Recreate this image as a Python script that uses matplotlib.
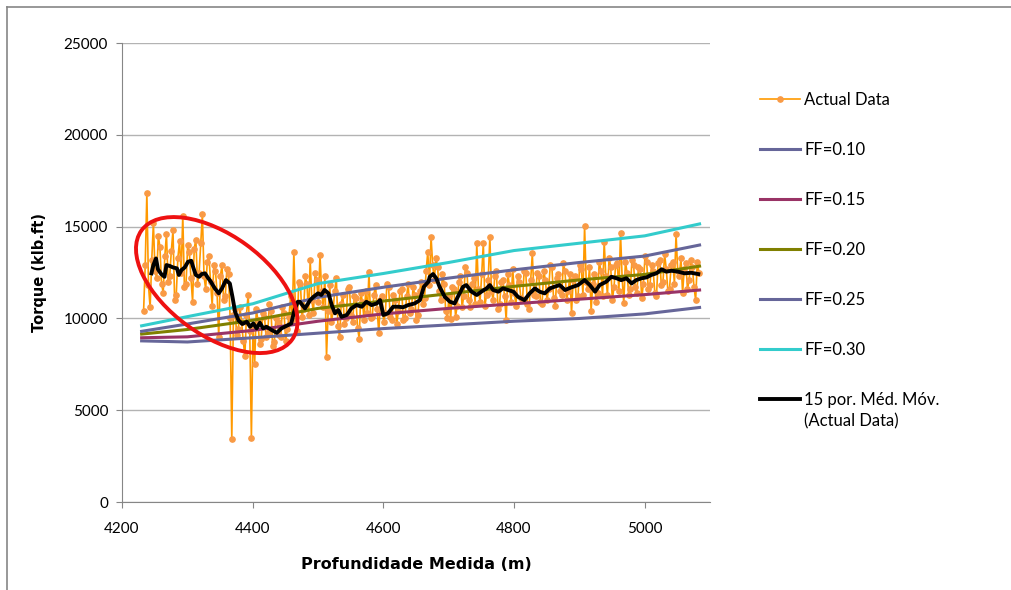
import numpy as np
import matplotlib
matplotlib.use("Agg")
from matplotlib import pyplot as plt
from matplotlib.lines import Line2D
from matplotlib.patches import Ellipse
from matplotlib.transforms import ScaledTranslation

plt.rcParams['font.family'] = ['Lato', 'DejaVu Sans']

# torque log, one reading every 2.5 m starting at 4233 m
depth_start, depth_step = 4233, 2.5
torque_actual = [
    10400, 12900, 16850, 11800, 10600, 13200, 15180, 12600, 12200, 14500,
    13900, 11900, 11400, 13400, 14600, 12000, 12300, 13700, 14800, 11000,
    11300, 13300, 14200, 12500, 15600, 11700, 11900, 14000, 13600, 12200,
    10900, 13800, 14300, 11900, 12500, 14100, 15670, 12300, 11600, 13100,
    13400, 12000, 10700, 12900, 12600, 11400, 9000, 12300, 12900, 11000,
    11200, 12700, 12400, 10000, 3410, 10200, 10500, 9100, 9400, 10600,
    9800, 8800, 7950, 10200, 11300, 9300, 3500, 9600, 7520, 10500,
    9900, 8600, 8900, 10300, 10100, 9000, 9200, 10800, 10400, 8500,
    8700, 10000, 9800, 9100, 9000, 10600, 10300, 8800, 9400, 10100,
    11200, 9900, 13630, 10400, 9300, 12000, 11900, 10100, 10500, 12300,
    11900, 10200, 13180, 11000, 10300, 12500, 12100, 10900, 13450, 11500,
    10600, 12300, 7920, 10400, 11800, 9800, 10400, 11500, 12200, 9600,
    9000, 10800, 11300, 9700, 10000, 11600, 11700, 10200, 9800, 11200,
    11100, 9500, 8900, 11400, 10900, 9900, 11500, 10300, 12540, 10000,
    10100, 11300, 11800, 10500, 9190, 11000, 11200, 9800, 10300, 11900,
    11700, 10100, 9900, 11300, 11000, 9700, 10400, 11500, 11600, 9900,
    10000, 11200, 11900, 10300, 10500, 11700, 11300, 9900, 10200, 11500,
    12000, 10800, 11100, 12600, 13630, 11800, 14450, 12900, 12100, 13300,
    12800, 11500, 11000, 12400, 11900, 10400, 10000, 11300, 9950, 11700,
    11600, 10100, 10700, 12000, 12300, 10600, 11200, 12800, 12500, 11000,
    10600, 11900, 12200, 10800, 14090, 11600, 10900, 12400, 14100, 10700,
    11300, 12100, 14450, 11500, 11000, 12300, 12600, 10500, 10800, 12000,
    12100, 11200, 9910, 12400, 11800, 10900, 12700, 11400, 10700, 12300,
    12000, 11100, 11000, 12600, 12500, 10800, 10500, 12100, 13540, 11300,
    11200, 12500, 12300, 10900, 10800, 12600, 12100, 11000, 11600, 12900,
    12800, 11100, 10700, 12200, 12400, 11500, 11300, 13000, 12600, 11000,
    11500, 12400, 10280, 12100, 12300, 11000, 11200, 12900, 12700, 11300,
    15030, 12000, 11600, 12800, 10420, 11900, 12400, 10900, 11400, 13100,
    12600, 11200, 14180, 12300, 11300, 13300, 12800, 11000, 11700, 12900,
    13000, 11500, 14630, 12200, 10820, 13100, 12500, 11300, 11600, 13200,
    12900, 11700, 11400, 12800, 12700, 11100, 11900, 13400, 13100, 11600,
    11800, 12900, 12600, 11400, 11200, 13000, 13200, 11800, 12000, 13500,
    12700, 11500, 11600, 12900, 13100, 11900, 14600, 12600, 12300, 13300,
    11370, 12700, 13000, 11600, 12100, 13200, 12800, 11700, 11000, 13100,
    12500,
]
depth_actual = depth_start + depth_step * np.arange(len(torque_actual))

# 15-point moving average trendline
ma_depth = [4245, 4248, 4252, 4255, 4260, 4265, 4268, 4273, 4278, 4284,
            4287, 4291, 4296, 4301, 4306, 4309, 4313, 4318, 4322, 4327,
            4331, 4336, 4342, 4348, 4353, 4359, 4365, 4369, 4373, 4378,
            4384, 4391, 4396, 4401, 4406, 4411, 4416, 4421, 4429, 4437,
            4444, 4459, 4464, 4469, 4472, 4480, 4488, 4493, 4500, 4505,
            4510, 4516, 4521, 4526, 4531, 4536, 4544, 4551, 4559, 4567,
            4574, 4582, 4590, 4595, 4600, 4607, 4615, 4623, 4630, 4638,
            4648, 4656, 4662, 4669, 4671, 4676, 4681, 4686, 4694, 4702,
            4709, 4714, 4722, 4727, 4735, 4743, 4750, 4758, 4763, 4768,
            4776, 4783, 4791, 4799, 4806, 4816, 4824, 4832, 4839, 4847,
            4855, 4862, 4870, 4878, 4888, 4898, 4908, 4916, 4924, 4931,
            4941, 4949, 4957, 4964, 4972, 4980, 4987, 4995, 5003, 5010,
            5018, 5026, 5033, 5041, 5051, 5061, 5071, 5082]
ma_torque = [12460, 12910, 13270, 12680, 12420, 12270, 12910, 12860, 12780, 12730,
             12370, 12640, 12780, 13090, 13140, 12780, 12370, 12270, 12420, 12460,
             12240, 12000, 11640, 11370, 11640, 12090, 11910, 11180, 10370, 9910,
             9700, 9820, 9550, 9730, 9460, 9770, 9460, 9550, 9370, 9220,
             9460, 9730, 10460, 10910, 10910, 10550, 11000, 11180, 11370, 11280,
             11550, 11370, 10730, 10280, 10460, 10090, 10190, 10550, 10730, 10640,
             10910, 10730, 10820, 11000, 10190, 10280, 10640, 10640, 10610, 10730,
             10820, 11000, 11730, 12000, 12270, 12420, 12190, 11730, 11180, 10910,
             10820, 11180, 11730, 11820, 11460, 11280, 11460, 11640, 11820, 11550,
             11460, 11640, 11550, 11460, 11180, 11000, 11370, 11640, 11460, 11370,
             11640, 11730, 11820, 11550, 11700, 11820, 12090, 11820, 11460, 11820,
             12000, 12270, 12190, 12090, 12190, 11910, 12090, 12190, 12240, 12370,
             12460, 12680, 12550, 12600, 12550, 12460, 12490, 12420]

# torque predicted with different friction factors
ff_depth = [4230, 4300, 4400, 4500, 4600, 4700, 4800, 4900, 5000, 5084]
ff_010 = [8780, 8720, 8950, 9200, 9450, 9650, 9850, 10000, 10250, 10600]
ff_015 = [8950, 9000, 9350, 9850, 10250, 10550, 10800, 11050, 11300, 11550]
ff_020 = [9150, 9400, 9900, 10550, 10950, 11350, 11750, 12100, 12400, 12850]
ff_025 = [9300, 9700, 10300, 11150, 11700, 12200, 12650, 13050, 13400, 14000]
ff_030 = [9600, 10100, 10800, 11900, 12450, 13050, 13700, 14100, 14500, 15150]

fig = plt.figure(figsize=(10.11, 5.90), dpi=100)
ax = fig.add_axes([0.1207, 0.149, 0.5816, 0.778])

l_act, = ax.plot(depth_actual, torque_actual, color='#FF9900', lw=1.2,
                 marker='o', ms=3.8, mfc='#F99A45', mec='#F99A45', zorder=2)
ff_lines = []
for vals, col in [(ff_010, '#666699'), (ff_015, '#993366'), (ff_020, '#808000'),
                  (ff_025, '#666699'), (ff_030, '#33CCCC')]:
    ln, = ax.plot(ff_depth, vals, color=col, lw=2.2, zorder=3)
    ff_lines.append(ln)
l_ma, = ax.plot(ma_depth, ma_torque, color='black', lw=2.8, zorder=4)

# highlight of the low-torque zone
ell = Ellipse((0, 0), 1.86, 1.0, angle=-36, fill=False, ec='#EE1111', lw=2.8,
              transform=fig.dpi_scale_trans + ScaledTranslation(4345, 11820, ax.transData),
              zorder=5)
ax.add_patch(ell)

ax.set_xlim(4200, 5100)
ax.set_ylim(0, 25000)
ax.set_xticks(range(4200, 5001, 200))
ax.set_yticks(range(0, 25001, 5000))
ax.yaxis.grid(True, color='#B3B3B3', lw=1.0)
ax.set_axisbelow(True)
for s in ['top', 'right']:
    ax.spines[s].set_visible(False)
for s in ['left', 'bottom']:
    ax.spines[s].set_color('#868686')
ax.tick_params(colors='#868686', labelcolor='black', labelsize=11, length=4)
ax.tick_params(axis='x', pad=10.5)
ax.tick_params(axis='y', pad=6)

ax.set_xlabel('Profundidade Medida (m)', fontsize=11.5, fontweight='bold',
              family='DejaVu Sans', labelpad=15)
ax.set_ylabel('Torque (klb.ft)', fontsize=10.5, fontweight='bold',
              family='DejaVu Sans', labelpad=12)

labels = ['Actual Data', 'FF=0.10', 'FF=0.15', 'FF=0.20', 'FF=0.25', 'FF=0.30',
          '15 por. Méd. Móv.']
leg = fig.legend([l_act] + ff_lines + [l_ma], labels, loc='upper left',
                 bbox_to_anchor=(0.745, 0.856), borderaxespad=0, frameon=False,
                 fontsize=12, handlelength=2.4, handletextpad=0.25,
                 labelspacing=2.04, numpoints=1)

# second line of the moving-average entry
fig.canvas.draw()
bb = leg.get_texts()[-1].get_window_extent()
fig.text(bb.x0 / fig.bbox.width, (bb.y0 - 6) / fig.bbox.height, '(Actual Data)',
         fontsize=12, va='top', ha='left')

# chart border
fig.add_artist(Line2D([0.007, 1.0], [0.988, 0.988], color='#868686', lw=1.2))
fig.add_artist(Line2D([0.007, 0.007], [0.0, 0.988], color='#868686', lw=1.2))

fig.savefig('out.png', dpi=100)
